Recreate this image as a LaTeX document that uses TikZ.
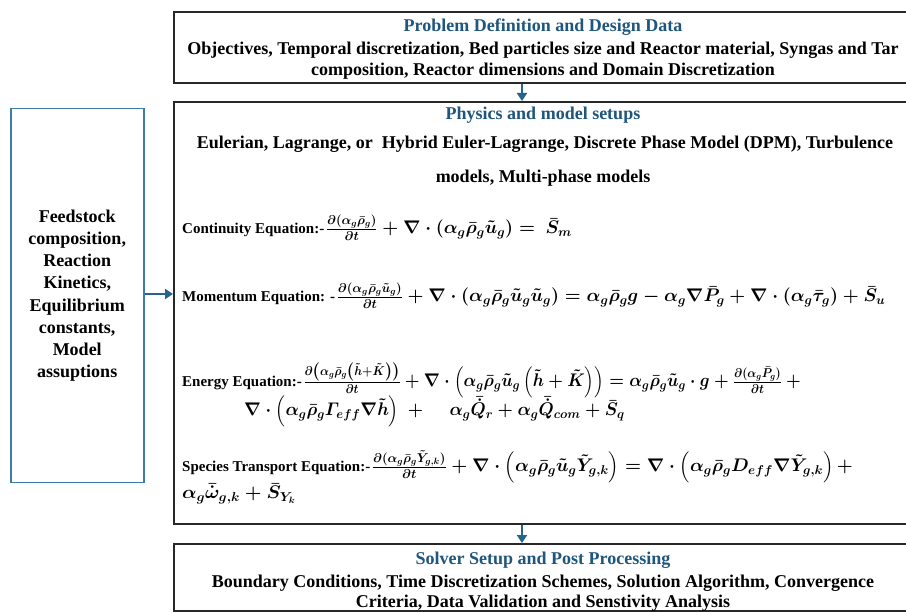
\RequirePackage{fix-cm}
\documentclass[tikz,border=0pt]{standalone}
\usepackage{amsmath}
\usepackage{bm}
\usepackage{graphicx}
\usepackage{fontspec}
\setmainfont{Liberation Serif}
\usetikzlibrary{arrows.meta}
\definecolor{titleblue}{RGB}{31,86,125}
\definecolor{arrowblue}{RGB}{37,100,140}
\definecolor{sideblue}{RGB}{60,125,165}
\definecolor{boxline}{RGB}{40,40,40}
\newcommand{\eqlab}[1]{{\fontsize{15}{18}\selectfont\bfseries #1}}
\newcommand{\eqm}[1]{{\fontsize{18.3}{21}\selectfont\boldmath$#1$}}
\newcommand{\eqmx}[2]{\scalebox{#1}[1]{\eqm{#2}}}
\begin{document}
\begin{tikzpicture}[x=1pt,y=-1pt,
  mainbox/.style={draw=boxline, line width=2pt, anchor=north west, minimum width=740pt, inner sep=0pt},
  sidebox/.style={draw=sideblue, line width=1.5pt, anchor=north west, minimum width=133pt, minimum height=374pt, inner sep=0pt},
  titletext/.style={text=titleblue, font=\fontsize{18}{22}\selectfont\bfseries, anchor=base, inner sep=0pt},
  bodytext/.style={font=\fontsize{18}{22}\selectfont\bfseries, anchor=base, inner sep=0pt},
  eqline/.style={anchor=base west, inner sep=0pt},
  flow/.style={draw=arrowblue, line width=2.2pt, -{Triangle[width=10pt,length=8pt]}}
]
\useasboundingbox (0,0) rectangle (906,612);
\fill[white] (0,0) rectangle (906,612);

% boxes
\node[mainbox, minimum height=71pt] (top) at (173,11) {};
\node[mainbox, minimum height=422pt] (mid) at (173,101) {};
\node[mainbox, minimum height=67pt] (bot) at (173,543) {};
\node[sidebox] (side) at (10,108) {};

% top box text
\node[titletext] (toptitle) at (543,32) {Problem Definition and Design Data};
\node[bodytext] (topl1) at (543,55) {Objectives, Temporal discretization, Bed particles size and Reactor material, Syngas and Tar};
\node[bodytext] (topl2) at (543,76) {composition, Reactor dimensions and Domain Discretization};

% middle box text
\node[titletext] (midtitle) at (543,120) {Physics and model setups};
\node[bodytext] (midl1) at (545,149) {Eulerian, Lagrange, or\ \ Hybrid Euler-Lagrange, Discrete Phase Model (DPM), Turbulence};
\node[bodytext] (midl2) at (543,183) {models, Multi-phase models};

\node[eqline] (cont) at (182,234) {\eqlab{Continuity Equation:-}\,\eqm{\frac{\partial(\alpha_g\bar{\rho}_g)}{\partial t}+\nabla\cdot\left(\alpha_g\bar{\rho}_g\tilde{u}_g\right)=\ \bar{S}_m}};

\node[eqline] (mom) at (182,302) {\eqlab{Momentum Equation: -}\,\eqm{\frac{\partial(\alpha_g\bar{\rho}_g\tilde{u}_g)}{\partial t}+\nabla\cdot\left(\alpha_g\bar{\rho}_g\tilde{u}_g\tilde{u}_g\right)=\alpha_g\bar{\rho}_g g-\alpha_g\nabla\bar{P}_g+\nabla\cdot\left(\alpha_g\bar{\tau}_g\right)+\bar{S}_u}};

\node[eqline] (en1) at (182,387) {\eqlab{Energy Equation:-}\,\eqmx{0.92}{\frac{\partial\left(\alpha_g\bar{\rho}_g\left(\tilde{h}+\tilde{K}\right)\right)}{\partial t}+\nabla\cdot\left(\alpha_g\bar{\rho}_g\tilde{u}_g\left(\tilde{h}+\tilde{K}\right)\right)=\alpha_g\bar{\rho}_g\tilde{u}_g\cdot g+\frac{\partial(\alpha_g\bar{P}_g)}{\partial t}\ +}};
\node[eqline] (en2) at (244,416) {\eqmx{0.96}{\nabla\cdot\left(\alpha_g\bar{\rho}_g\varGamma_{eff}\nabla\tilde{h}\right)\ +\quad\ \alpha_g\bar{\dot{Q}}_r+\alpha_g\bar{\dot{Q}}_{com}+\bar{S}_q}};

\node[eqline] (sp1) at (182,472) {\eqlab{Species Transport Equation:-}\,\eqm{\frac{\partial(\alpha_g\bar{\rho}_g\tilde{Y}_{g,k})}{\partial t}+\nabla\cdot\left(\alpha_g\bar{\rho}_g\tilde{u}_g\tilde{Y}_{g,k}\right)=\nabla\cdot\left(\alpha_g\bar{\rho}_g D_{eff}\nabla\tilde{Y}_{g,k}\right)+}};
\node[eqline] (sp2) at (182,499) {\eqmx{1.05}{\alpha_g\bar{\dot{\omega}}_{g,k}+\bar{S}_{Y_k}}};

% bottom box text
\node[titletext] (bottitle) at (543,565) {Solver Setup and Post Processing};
\node[bodytext] (botl1) at (543,587) {Boundary Conditions, Time Discretization Schemes, Solution Algorithm, Convergence};
\node[bodytext] (botl2) at (543,607) {Criteria, Data Validation and Senstivity Analysis};

% side box text
\node[font=\fontsize{18}{22.2}\selectfont\bfseries, align=center, inner sep=0pt] (sidetext) at (side.center) {Feedstock\\composition,\\Reaction\\Kinetics,\\Equilibrium\\constants,\\Model\\assuptions};

% connectors
\coordinate (ax) at (522,0);
\coordinate (ay) at (0,294);
\draw[flow] (top.south -| ax) -- (mid.north -| ax);
\draw[flow] (mid.south -| ax) -- (bot.north -| ax);
\draw[flow] (side.east |- ay) -- (mid.west |- ay);
\end{tikzpicture}
\end{document}
